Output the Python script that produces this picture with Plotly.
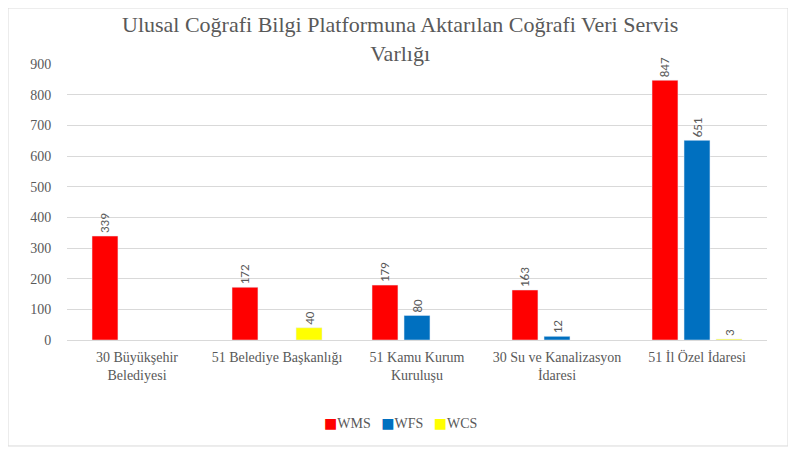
import plotly.graph_objects as go

# Veriler
categories = ["30 Büyükşehir<br>Belediyesi", "51 Belediye Başkanlığı", "51 Kamu Kurum<br>Kuruluşu",
              "30 Su ve Kanalizasyon<br>İdaresi", "51 İl Özel İdaresi"]
wms = [339, 172, 179, 163, 847]
wfs = [None, None, 80, 12, 651]
wcs = [None, 40, None, None, 3]

series = [("WMS", wms, "#ff0000"), ("WFS", wfs, "#0070c0"), ("WCS", wcs, "#ffff00")]

serif = "Liberation Serif, Times New Roman, serif"
gray = "#595959"

fig = go.Figure()
for name, vals, color in series:
    fig.add_trace(go.Bar(
        x=categories, y=vals, name=name, marker=dict(color=color),
        text=[str(v) if v is not None else "" for v in vals],
        textposition="outside", textangle=-90,
        textfont=dict(family="Carlito, Liberation Sans, Arial, sans-serif", size=13, color=gray),
        cliponaxis=False, showlegend=False,
    ))

# Marco del gráfico
fig.add_shape(type="rect", xref="paper", yref="paper",
              x0=-0.0843, x1=1.03, y0=-0.384, y1=1.203,
              line=dict(color="#d9d9d9", width=1))

# Título (como anotación para controlar las dos líneas)
fig.add_annotation(text="Ulusal Coğrafi Bilgi Platformuna Aktarılan Coğrafi Veri Servis<br>Varlığı",
                   xref="paper", yref="paper", x=0.476, xanchor="center", y=1.197, yanchor="top",
                   showarrow=False, font=dict(family=serif, size=22, color=gray))

# Leyenda compacta como en el original
legend_txt = "\u00a0\u00a0\u00a0".join(
    f"<span style='color:{c};font-family:DejaVu Sans'>■</span>{n}" for n, _, c in series)
fig.add_annotation(text=legend_txt, xref="paper", yref="paper", x=0.476, xanchor="center",
                   y=-0.30, yanchor="middle", showarrow=False,
                   font=dict(family=serif, size=14, color=gray))

fig.update_layout(
    width=788, height=446,
    margin=dict(l=59, r=29, t=56, b=114),
    paper_bgcolor="white", plot_bgcolor="white",
    barmode="group", bargap=0.314, bargroupgap=0.19,
    xaxis=dict(showline=True, linecolor="#d9d9d9", ticks="outside", ticklen=4,
               tickcolor="rgba(0,0,0,0)",
               tickfont=dict(family=serif, size=14, color=gray)),
    yaxis=dict(range=[0, 900], dtick=100, showgrid=True, gridcolor="#d9d9d9",
               zeroline=False, ticks="outside", ticklen=12, tickcolor="rgba(0,0,0,0)",
               tickfont=dict(family=serif, size=14, color=gray)),
)

fig.write_html("out.html")
